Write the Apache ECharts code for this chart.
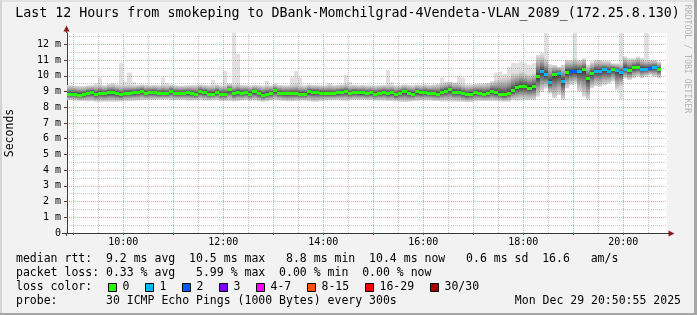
<!DOCTYPE html>
<html>
<head>
<meta charset="utf-8">
<script src="https://cdn.jsdelivr.net/npm/echarts/dist/echarts.min.js"></script>
<style>
html,body{margin:0;padding:0;background:#f2f2f2;}
#chart{width:697px;height:315px;}
</style>
</head>
<body>
<div id="chart"></div>
<script>
// ---- data ----
const titleText = 'Last 12 Hours from smokeping to DBank-Momchilgrad-4Vendeta-VLAN_2089_(172.25.8.130)';
const firstStepMinute = 530;   // 08:50, each step covers 5 minutes
const stepMinutes = 5;
const median = [
  8.82, 8.82, 8.82, 8.77, 8.80, 8.90, 8.94, 8.82, 8.90, 8.86,
  8.92, 8.92, 8.86, 8.78, 8.90, 8.90, 8.92, 8.95, 9.00, 8.90,
  8.94, 8.94, 8.86, 8.90, 8.86, 9.00, 8.90, 8.88, 8.90, 8.92,
  8.88, 8.80, 9.00, 8.94, 8.84, 8.84, 8.94, 8.82, 8.82, 9.10,
  8.87, 8.94, 8.90, 8.94, 8.84, 8.97, 8.87, 8.76, 8.84, 8.87,
  9.05, 8.90, 8.86, 8.86, 8.87, 8.87, 8.82, 8.82, 8.97, 8.94,
  8.94, 8.90, 8.90, 8.87, 8.87, 8.91, 8.94, 8.97, 8.87, 8.94,
  8.91, 8.91, 8.86, 8.91, 8.84, 8.90, 8.94, 8.86, 8.91, 8.78,
  8.90, 8.97, 8.87, 8.84, 8.97, 8.91, 8.94, 8.90, 8.87, 8.84,
  8.96, 9.02, 9.10, 8.96, 8.96, 8.86, 8.78, 8.84, 8.92, 8.90,
  8.84, 8.86, 9.00, 8.91, 8.84, 8.78, 8.90, 9.05, 9.24, 9.31,
  9.31, 9.22, 9.29, 9.95, 10.26, 10.05, 9.58, 10.05, 10.13, 9.62,
  10.22, 10.26, 10.28, 10.30, 10.37, 9.82, 10.13, 10.30, 10.30, 10.38,
  10.30, 10.43, 10.33, 10.20, 10.43, 10.32, 10.52, 10.52, 10.43, 10.43,
  10.47, 10.52, 10.40
];
const smokeLo = [
  8.45, 8.45, 8.42, 8.40, 8.40, 8.38, 8.38, 8.35, 8.35, 8.35,
  8.35, 8.36, 8.35, 8.38, 8.40, 8.40, 8.42, 8.42, 8.45, 8.45,
  8.45, 8.45, 8.48, 8.48, 8.50, 8.45, 8.45, 8.45, 8.45, 8.42,
  8.42, 8.45, 8.45, 8.42, 8.42, 8.45, 8.45, 8.40, 8.40, 8.40,
  8.38, 8.40, 8.42, 8.45, 8.40, 8.42, 8.38, 8.35, 8.38, 8.42,
  8.45, 8.42, 8.40, 8.38, 8.38, 8.40, 8.42, 8.42, 8.38, 8.35,
  8.35, 8.40, 8.42, 8.45, 8.45, 8.45, 8.42, 8.42, 8.45, 8.45,
  8.45, 8.45, 8.45, 8.45, 8.42, 8.42, 8.42, 8.40, 8.40, 8.38,
  8.35, 8.33, 8.35, 8.38, 8.40, 8.42, 8.42, 8.42, 8.40, 8.40,
  8.38, 8.38, 8.36, 8.36, 8.36, 8.35, 8.33, 8.33, 8.38, 8.40,
  8.40, 8.40, 8.40, 8.40, 8.38, 8.36, 8.36, 8.45, 8.42, 8.45,
  8.45, 8.45, 8.45, 8.67, 8.99, 9.20, 8.88, 8.57, 8.78, 8.46,
  9.20, 9.42, 9.52, 8.99, 8.67, 8.46, 9.20, 9.35, 9.30, 9.40,
  9.50, 9.63, 9.10, 9.30, 9.84, 9.74, 9.84, 9.95, 9.84, 9.95,
  10.05, 9.95, 9.84
];
const smokeHi = [
  9.42, 9.40, 9.38, 9.35, 9.35, 9.38, 9.40, 9.42, 9.45, 9.40,
  9.48, 9.50, 9.45, 9.42, 9.40, 9.42, 9.40, 9.42, 9.45, 9.42,
  9.40, 9.42, 9.40, 9.45, 9.42, 9.45, 9.40, 9.38, 9.38, 9.40,
  9.40, 9.42, 9.45, 9.42, 9.40, 9.42, 9.45, 9.40, 9.42, 9.50,
  9.45, 9.50, 9.42, 9.40, 9.38, 9.42, 9.40, 9.38, 9.42, 9.40,
  9.48, 9.42, 9.40, 9.40, 9.45, 9.48, 9.42, 9.40, 9.45, 9.42,
  9.42, 9.40, 9.40, 9.45, 9.40, 9.42, 9.45, 9.50, 9.42, 9.42,
  9.40, 9.42, 9.40, 9.40, 9.38, 9.40, 9.42, 9.45, 9.42, 9.40,
  9.40, 9.45, 9.42, 9.40, 9.45, 9.42, 9.45, 9.42, 9.45, 9.48,
  9.55, 9.60, 9.62, 9.58, 9.55, 9.50, 9.45, 9.45, 9.48, 9.50,
  9.52, 9.55, 9.65, 9.75, 9.85, 9.90, 9.95, 10.20, 10.20, 10.30,
  10.20, 10.10, 10.20, 11.32, 11.32, 11.11, 10.73, 10.69, 10.58, 10.69,
  11.01, 11.01, 11.11, 11.01, 11.11, 10.69, 10.90, 11.01, 11.01, 10.94,
  10.94, 10.79, 10.79, 10.79, 11.22, 11.11, 11.11, 11.22, 11.11, 11.01,
  11.01, 11.01, 10.90
];
// isolated high pings (light grey spikes)
const spikeStep = [7, 8, 11, 13, 14, 15, 16, 23, 24, 35, 38, 40, 41, 48, 54, 55, 56, 63, 67, 68,
  77, 78, 90, 91, 94, 95, 103, 104, 105, 106, 107, 108, 109, 110, 111, 112, 114, 115, 122, 133, 139];
const spikeTop = [9.50, 9.88, 9.55, 10.83, 9.63, 10.20, 9.60, 9.88, 9.55, 9.73, 10.30, 12.72, 11.39, 9.68, 9.90, 10.30, 9.90, 9.55, 10.05, 9.63,
  10.37, 9.60, 9.88, 9.63, 10.00, 9.88, 10.20, 10.25, 10.10, 10.58, 10.83, 10.80, 10.90, 10.80, 10.70, 10.80, 11.45, 12.72, 12.72, 12.72, 12.72];
const spikeLowStep = [133];
const spikeLowValue = [8.50];
// steps where pings were lost (count of 30)
const lossStep = [114, 115, 116, 118, 119, 121, 122, 123, 127, 128, 129, 130, 132, 133, 134, 138, 139, 140, 141];
const lossCount = [1, 1, 1, 1, 1, 2, 2, 1, 1, 1, 1, 1, 1, 1, 1, 1, 1, 2, 1];
const lossLabels = ['0', '1', '2', '3', '4-7', '8-15', '16-29', '30/30'];
const lossColors = ['#26ff00', '#00b8ff', '#0059ff', '#7e00ff', '#ff00ff', '#ff5500', '#ff0000', '#a10000'];
const xLabelMinutes = [600, 720, 840, 960, 1080, 1200];
const yLabelValues = [0, 1, 2, 3, 4, 5, 6, 7, 8, 9, 10, 11, 12];
const legendRows = [
  'median rtt:  9.2 ms avg  10.5 ms max   8.8 ms min  10.4 ms now   0.6 ms sd  16.6   am/s',
  'packet loss: 0.33 % avg   5.99 % max  0.00 % min  0.00 % now',
  'loss color:',
  'probe:       30 ICMP Echo Pings (1000 Bytes) every 300s'
];
const stampText = 'Mon Dec 29 20:50:55 2025';
const yAxisName = 'Seconds';
const sideText = 'RRDTOOL / TOBI OETIKER';

// ---- style ----
const MONO = "'DejaVu Sans Mono', monospace";
const bandReach = [1, .9, .8, .7, .62, .54, .47, .4, .33, .27, .2, .14, .08];
const bandGrey = [214, 202, 189, 176, 164, 151, 138, 126, 113, 100, 88, 75, 62];
const MAJOR_GRID = 'rgba(225,80,80,0.55)';
const MINOR_GRID = 'rgba(120,120,120,0.42)';

const spikeMap = {}; spikeStep.forEach((s, j) => spikeMap[s] = spikeTop[j]);
const spikeLowMap = {}; spikeLowStep.forEach((s, j) => spikeLowMap[s] = spikeLowValue[j]);
const lossMap = {}; lossStep.forEach((s, j) => lossMap[s] = lossCount[j]);
function lossColorIndex(c) {
  if (c <= 3) return c;
  if (c <= 7) return 4;
  if (c <= 15) return 5;
  if (c <= 29) return 6;
  return 7;
}
const stepData = median.map((m, i) => [firstStepMinute + i * stepMinutes, m]);

function grey(g) { return 'rgb(' + g + ',' + g + ',' + g + ')'; }

function renderStep(params, api) {
  const i = params.dataIndex;
  const t = api.value(0);
  const xa = Math.round(api.coord([t, 0])[0]);
  const xb = Math.round(api.coord([t + stepMinutes, 0])[0]);
  const w = xb - xa;
  const Y = v => api.coord([t, v])[1];
  const m = median[i], lo = smokeLo[i], hi = smokeHi[i];
  const kids = [];
  if (spikeMap[i] !== undefined) {
    const top = spikeMap[i];
    const bot = spikeLowMap[i] !== undefined ? spikeLowMap[i] : lo;
    kids.push({type: 'rect', shape: {x: xa, y: Y(top), width: w, height: Y(bot) - Y(top)}, style: {fill: '#e0e0e0'}});
  }
  for (let k = 0; k < bandReach.length; k++) {
    const up = m + (hi - m) * bandReach[k];
    const dn = m - (m - lo) * bandReach[k];
    kids.push({type: 'rect', shape: {x: xa, y: Y(up), width: w, height: Y(dn) - Y(up)}, style: {fill: grey(bandGrey[k])}});
  }
  const yc = Y(m);
  const c = lossMap[i] || 0;
  kids.push({type: 'rect', shape: {x: xa, y: Math.floor(yc) - 1, width: w, height: 3}, style: {fill: lossColors[lossColorIndex(c)]}});
  return {type: 'group', children: kids};
}

// grid lines (drawn above the smoke like rrdtool does)
const gridLines = [];
for (let v = 0.5; v <= 12.5; v += 0.5) {
  const major = Math.abs(v - Math.round(v)) < 1e-9;
  gridLines.push({yAxis: v, lineStyle: {color: major ? MAJOR_GRID : MINOR_GRID, type: [1, 1], width: 1}});
}
for (let t = 540; t <= 1250; t += 30) {
  const major = t % 60 === 0;
  gridLines.push({xAxis: t, lineStyle: {color: major ? MAJOR_GRID : MINOR_GRID, type: [1, 1], width: 1}});
}

function hhmm(v) {
  const h = Math.floor(v / 60), mm = Math.round(v % 60);
  return (h < 10 ? '0' : '') + h + ':' + (mm < 10 ? '0' : '') + mm;
}

const graphic = [];
// frame
graphic.push({type: 'rect', shape: {x: 0, y: 0, width: 697, height: 2}, style: {fill: '#e2e2e2'}, silent: true});
graphic.push({type: 'rect', shape: {x: 0, y: 0, width: 2, height: 315}, style: {fill: '#d4d4d4'}, silent: true});
graphic.push({type: 'rect', shape: {x: 694, y: 0, width: 3, height: 315}, style: {fill: '#a6a6a6'}, silent: true});
graphic.push({type: 'rect', shape: {x: 0, y: 313, width: 697, height: 2}, style: {fill: '#a6a6a6'}, silent: true});
// title
graphic.push({type: 'text', x: 347.5, y: 14, style: {text: titleText, fontFamily: MONO, fontSize: 13.3, fill: '#000', align: 'center', verticalAlign: 'middle'}});
// y axis name
graphic.push({type: 'text', x: 10, y: 133, rotation: Math.PI / 2, style: {text: yAxisName, fontFamily: MONO, fontSize: 11.5, fill: '#000', align: 'center', verticalAlign: 'middle'}});
// side watermark
graphic.push({type: 'text', x: 687.5, y: 59, rotation: -Math.PI / 2, style: {text: sideText, fontFamily: MONO, fontSize: 8.2, fill: '#b4b4b4', align: 'center', verticalAlign: 'middle'}});
// axis arrows + overshoot
graphic.push({type: 'line', shape: {x1: 66.5, y1: 33, x2: 66.5, y2: 29}, style: {stroke: '#3a3a3a', lineWidth: 1}});
graphic.push({type: 'line', shape: {x1: 66.5, y1: 233, x2: 66.5, y2: 236}, style: {stroke: '#3a3a3a', lineWidth: 1}});
graphic.push({type: 'line', shape: {x1: 62, y1: 233.5, x2: 67, y2: 233.5}, style: {stroke: '#3a3a3a', lineWidth: 1}});
graphic.push({type: 'line', shape: {x1: 667, y1: 233.5, x2: 670, y2: 233.5}, style: {stroke: '#3a3a3a', lineWidth: 1}});
graphic.push({type: 'polygon', shape: {points: [[63.5, 31.5], [69.5, 31.5], [66.5, 25.5]]}, style: {fill: '#8a1c1c'}});
graphic.push({type: 'polygon', shape: {points: [[668.5, 230.5], [668.5, 236.5], [674.5, 233.5]]}, style: {fill: '#8a1c1c'}});
// legend rows
const rowY = [259.5, 273.5, 287.5, 301.5];
legendRows.forEach((r, j) => {
  graphic.push({type: 'text', x: 16, y: rowY[j], style: {text: r, fontFamily: MONO, fontSize: 11.5, fill: '#000', align: 'left', verticalAlign: 'middle'}});
});
graphic.push({type: 'text', x: 681, y: rowY[3], style: {text: stampText, fontFamily: MONO, fontSize: 11.5, fill: '#000', align: 'right', verticalAlign: 'middle'}});
const boxX = [108, 145, 182, 219, 256, 307, 365, 430];
lossLabels.forEach((lab, j) => {
  graphic.push({type: 'rect', shape: {x: boxX[j] + 0.5, y: 283.5, width: 8, height: 8}, style: {fill: lossColors[j], stroke: '#000', lineWidth: 1}});
  graphic.push({type: 'text', x: boxX[j] + 14.5, y: rowY[2], style: {text: lab, fontFamily: MONO, fontSize: 11.5, fill: '#000', align: 'left', verticalAlign: 'middle'}});
});

const chart = echarts.init(document.getElementById('chart'), null, {renderer: 'canvas', width: 697, height: 315});
chart.setOption({
  backgroundColor: '#f2f2f2',
  animation: false,
  grid: {left: 67, top: 33, width: 600, height: 200, show: true, backgroundColor: '#ffffff', borderWidth: 0, containLabel: false, outerBoundsMode: 'none'},
  xAxis: {
    type: 'value', min: 532.5, max: 1252.5,
    axisLine: {show: true, onZero: false, lineStyle: {color: '#3a3a3a', width: 1}},
    axisTick: {show: true, customValues: [540, 600, 660, 720, 780, 840, 900, 960, 1020, 1080, 1140, 1200], length: 2, lineStyle: {color: '#a04040'}},
    axisLabel: {show: true, customValues: xLabelMinutes, formatter: hhmm, fontFamily: MONO, fontSize: 10, color: '#000', margin: 4},
    splitLine: {show: false}, minorSplitLine: {show: false}
  },
  yAxis: {
    type: 'value', min: 0, max: 12.72,
    axisLine: {show: true, onZero: false, lineStyle: {color: '#3a3a3a', width: 1}},
    axisTick: {show: true, customValues: yLabelValues, length: 3, lineStyle: {color: '#3a3a3a'}},
    axisLabel: {show: true, customValues: yLabelValues, formatter: v => v === 0 ? '0' : v + ' m', fontFamily: MONO, fontSize: 10, color: '#000', margin: 6},
    splitLine: {show: false}
  },
  graphic: graphic,
  series: [
    {type: 'custom', renderItem: renderStep, data: stepData, clip: true, z: 2, silent: true,
     encode: {x: 0, y: 1}},
    {type: 'line', data: [], z: 10, silent: true,
     markLine: {silent: true, symbol: ['none', 'none'], label: {show: false}, animation: false, emphasis: {disabled: true}, data: gridLines}}
  ]
});
</script>
</body>
</html>
